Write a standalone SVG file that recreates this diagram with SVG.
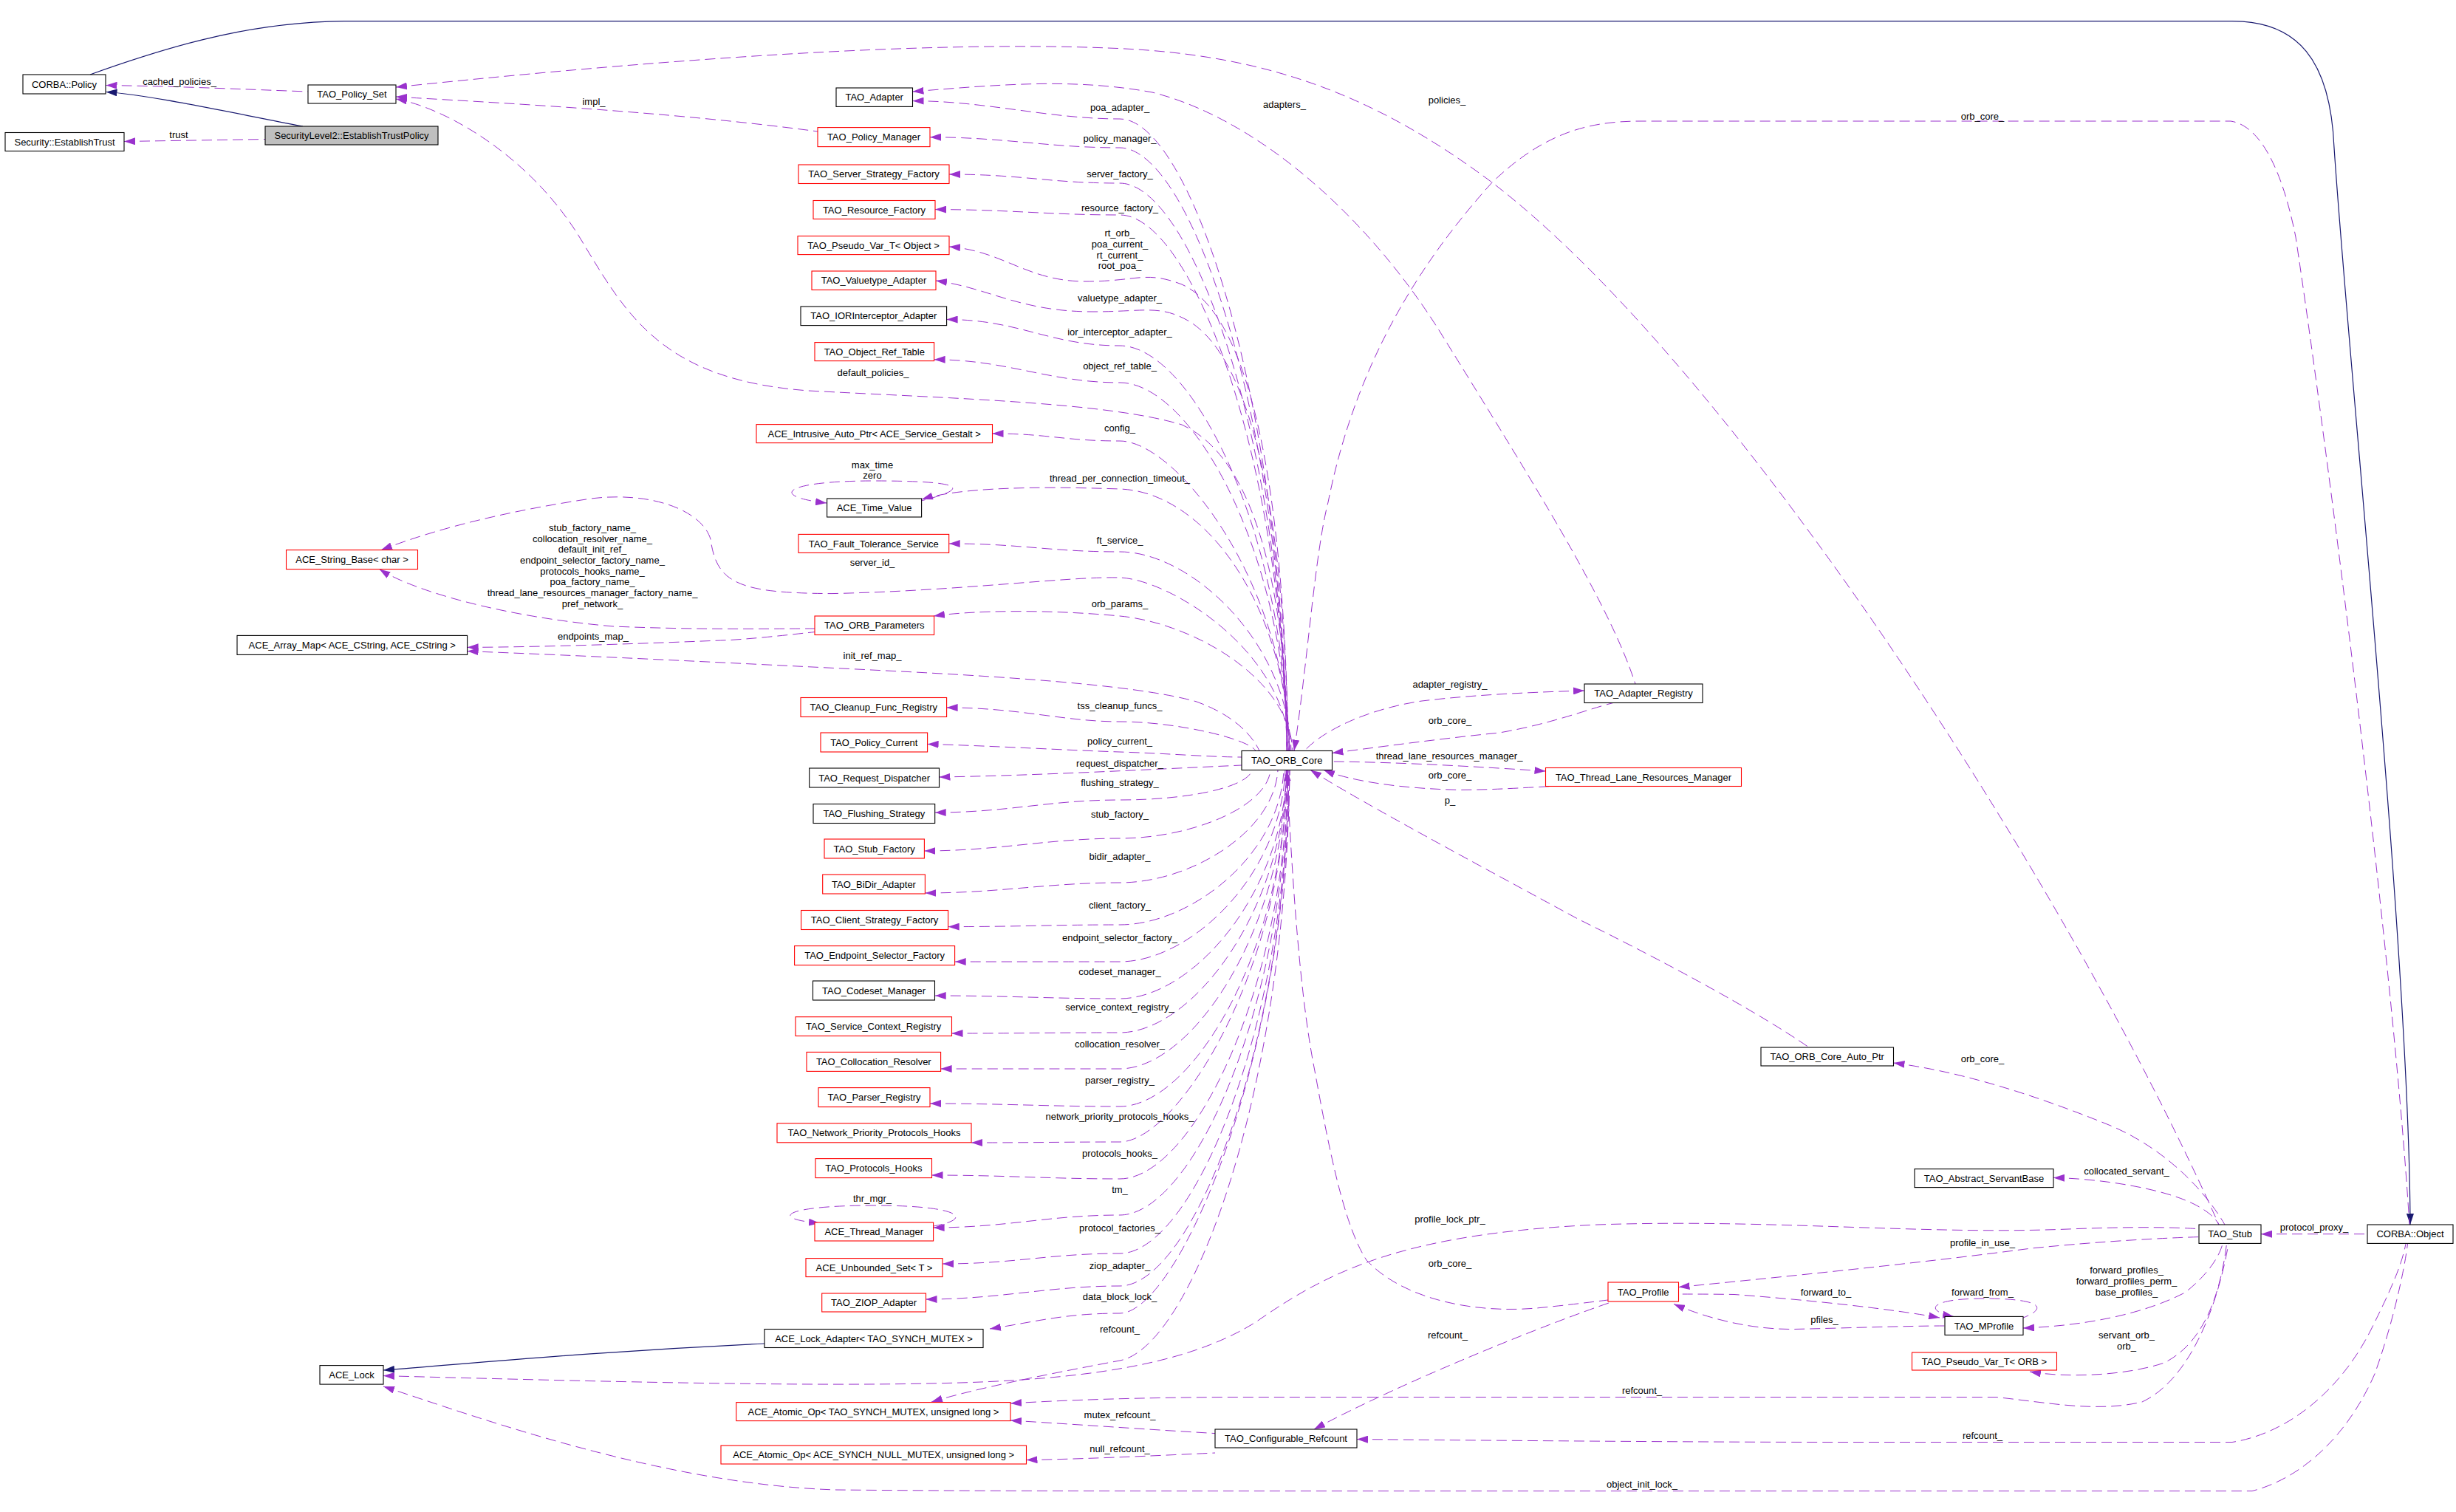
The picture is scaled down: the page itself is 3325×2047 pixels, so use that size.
<svg xmlns="http://www.w3.org/2000/svg" width="3325" height="2047" viewBox="0 0 3325 2047">
<style>
.node rect{fill:#fff;stroke:#000;stroke-width:1.1}
.node.red rect{stroke:#ff0000}
.node.main rect{fill:#bfbfbf}
text{font-family:"Liberation Sans",Arial,sans-serif;font-size:13px;text-anchor:middle;fill:#000}
.e{fill:none;stroke:#9a32cd;stroke-width:1;stroke-dasharray:14,7;marker-start:url(#a)}
.i{fill:none;stroke:#191970;stroke-width:1.2;marker-start:url(#b)}
</style>
<defs>
<marker id="a" viewBox="0 0 15 10" refX="15" refY="5" markerWidth="15" markerHeight="10" markerUnits="userSpaceOnUse" orient="auto-start-reverse"><path d="M0,0L15,5L0,10z" fill="#9a32cd"/></marker>
<marker id="b" viewBox="0 0 15 10" refX="15" refY="5" markerWidth="15" markerHeight="10" markerUnits="userSpaceOnUse" orient="auto-start-reverse"><path d="M0,0L15,5L0,10z" fill="#191970"/></marker>
</defs>
<rect width="3325" height="2047" fill="#fff"/>
<g id="connectors">
<path class="i" d="M3263,1658 C3262,1300 3180,500 3160,200 C3155,80 3110,28.6 3022,28.6 L466,28.6 C350,30 250,55 122,101"/>
<path class="i" d="M143.5,124.5 C200,128 300,150 410,171"/>
<path class="i" d="M519,1855 C650,1845 800,1830 1035,1819"/>
<path class="e" d="M143.5,115.5 C250,117 330,121 417,124"/>
<path class="e" d="M168,191.5 L359,188.5"/>
<path class="e" d="M536,131 C650,138 900,150 1107,178"/>
<path class="e" d="M536,118 C900,80 1250,55 1500,65 C1700,72 1850,120 2020,247 C2350,500 2800,1200 3004,1658"/>
<path class="e" d="M1235.5,124 C1350,115 1450,105 1560,125 C1700,160 1850,290 1950,450 C2080,660 2180,820 2214,926"/>
<path class="e" d="M1235.5,136.6 C1335,136.6 1420,161 1516,161 S1737,545 1742,1016.5"/>
<path class="e" d="M1259,185.7 C1359,185.7 1420,200 1516,200 S1737,567 1742,1016.5"/>
<path class="e" d="M1285,236 C1385,236 1420,248 1516,248 S1737,594 1742,1016.5"/>
<path class="e" d="M1266,283.6 C1366,283.6 1420,291 1516,291 S1737,617 1742,1016.5"/>
<path class="e" d="M1285,334 C1360,340 1390,381 1470,381 C1540,381 1550,366 1600,385 C1700,430 1740,700 1744,1016.5"/>
<path class="e" d="M1267,380 C1340,390 1380,422 1480,422 C1550,422 1570,412 1610,435 C1700,490 1740,720 1744,1016.5"/>
<path class="e" d="M1281.6,432.5 C1381,432.5 1420,468 1516,468 S1739,715 1744,1016.5"/>
<path class="e" d="M1264.6,486.8 C1364,486.8 1420,518 1516,518 S1739,742 1744,1016.5"/>
<path class="e" d="M536,134 C600,145 720,210 790,330 C850,430 900,515 1095,529 C1300,540 1500,545 1600,575 C1700,620 1740,800 1744,1016.5"/>
<path class="e" d="M1343.5,587 C1420,587 1440,597 1516,597 S1741,786 1746,1016.5"/>
<path class="e" d="M1119,681 C1040,672 1060,651 1183,651 C1300,651 1320,660 1247,678"/>
<path class="e" d="M1248,676 C1300,660 1400,658 1516,662 S1741,820 1746,1016.5"/>
<path class="e" d="M1284.7,736 C1384,736 1420,747 1516,747 S1743,868 1748,1016.5"/>
<path class="e" d="M516,744.6 C600,712 700,690 800,675 C880,665 950,690 962,730 C970,790 1000,803 1126,803.6 C1300,800 1450,780 1516,782 S1741,880 1746,1016.5"/>
<path class="e" d="M513.5,770.6 C560,800 680,835 830,848 C950,853 1050,851 1103,851"/>
<path class="e" d="M632.6,876.4 C750,876 900,870 989,866.5 C1040,863 1080,858 1103,855.6"/>
<path class="e" d="M1264,834 C1320,826 1420,825 1516,834 S1745,916 1750,1016.5"/>
<path class="e" d="M632.6,881.6 C800,888 1000,898 1200,908 C1400,918 1550,930 1620,950 C1670,968 1695,995 1705,1016.5"/>
<path class="e" d="M1281.6,958 C1381,958 1440,977 1516,977 S1690,1000 1700,1016.5"/>
<path class="e" d="M1255.6,1007.4 C1350,1010 1450,1016 1516,1018 C1580,1020 1640,1025 1681,1025"/>
<path class="e" d="M1271.5,1052 C1400,1050 1550,1042 1681,1036"/>
<path class="e" d="M1265.7,1100 C1365,1100 1420,1083 1516,1083 S1690,1065 1695,1042.5"/>
<path class="e" d="M1251.4,1152 C1351,1152 1420,1135 1516,1135 S1715,1093 1720,1042.5"/>
<path class="e" d="M1252.4,1209 C1352,1209 1420,1195 1516,1195 S1725,1126 1730,1042.5"/>
<path class="e" d="M1283.7,1254.6 C1383,1254.6 1420,1252 1516,1252 S1733,1158 1738,1042.5"/>
<path class="e" d="M1292.7,1302 C1392,1302 1420,1302 1516,1302 S1735,1185 1740,1042.5"/>
<path class="e" d="M1265.7,1348 C1365,1348 1420,1352 1516,1352 S1737,1213 1742,1042.5"/>
<path class="e" d="M1288.5,1399 C1388,1399 1420,1398 1516,1398 S1737,1238 1742,1042.5"/>
<path class="e" d="M1273.6,1447 C1373,1447 1420,1447 1516,1447 S1737,1265 1742,1042.5"/>
<path class="e" d="M1259,1494 C1359,1494 1420,1498 1516,1498 S1738,1293 1743,1042.5"/>
<path class="e" d="M1315,1547 C1400,1547 1440,1546 1516,1546 S1738,1320 1743,1042.5"/>
<path class="e" d="M1261.5,1591 C1361,1591 1420,1596 1516,1596 S1739,1347 1744,1042.5"/>
<path class="e" d="M1263.6,1662 C1363,1662 1420,1645 1516,1645 S1739,1374 1744,1042.5"/>
<path class="e" d="M1110,1656 C1040,1650 1060,1632 1183,1632 C1300,1632 1320,1650 1263.6,1660"/>
<path class="e" d="M1276,1711 C1376,1711 1420,1697 1516,1697 S1740,1402 1745,1042.5"/>
<path class="e" d="M1253.5,1759 C1353,1759 1420,1741 1516,1741 S1740,1427 1745,1042.5"/>
<path class="e" d="M1340,1799 C1400,1790 1440,1778 1516,1778 S1741,1447 1746,1042.5"/>
<path class="e" d="M1261,1898 C1320,1880 1420,1860 1516,1842 S1741,1482 1746,1042.5"/>
<path class="e" d="M1368,1923 C1450,1928 1550,1935 1645,1940.6"/>
<path class="e" d="M1389.5,1976.6 C1480,1975 1580,1970 1645,1967"/>
<path class="e" d="M2145,935 C2080,937 2000,940 1925,949 C1850,960 1790,990 1766,1016.5"/>
<path class="e" d="M1803.5,1019.5 C1870,1011 1950,1000 2030,992 C2100,980 2150,960 2184,951.5"/>
<path class="e" d="M2092.5,1044 C2000,1038 1900,1032 1803.5,1031"/>
<path class="e" d="M1792,1042.5 C1830,1058 1900,1068 1978,1069.4 C2030,1069 2070,1066 2099,1064.6"/>
<path class="e" d="M1774,1042.5 C1850,1090 2000,1170 2136,1244 C2250,1300 2380,1370 2449,1418"/>
<path class="e" d="M1752,1016.5 C1770,900 1780,750 1798,680 C1830,520 1900,380 2020,247 C2090,180 2150,164 2221,164 L3020,164 C3060,170 3090,230 3108,321 C3150,600 3240,1300 3262,1658"/>
<path class="e" d="M1742,1042.5 C1750,1200 1760,1350 1780,1450 C1800,1560 1820,1660 1850,1706 C1900,1760 2000,1780 2090,1770 C2130,1766 2160,1762 2177,1760"/>
<path class="e" d="M2563.5,1439 C2650,1450 2750,1480 2860,1525 C2940,1560 2990,1620 3012,1658"/>
<path class="e" d="M2780,1594.4 C2850,1596 2930,1610 2970,1630 C2990,1640 3000,1650 3004,1658"/>
<path class="e" d="M3061,1670.7 L3205,1670.7"/>
<path class="e" d="M2272.5,1742.6 C2400,1730 2600,1710 2750,1690 C2850,1680 2930,1676 2977,1674.6"/>
<path class="e" d="M519,1862.6 C800,1870 1100,1878 1300,1872 C1500,1866 1620,1840 1700,1790 C1800,1720 1900,1670 2163,1658 C2400,1650 2600,1672 2800,1664 C2900,1660 2950,1662 2977,1663.7"/>
<path class="e" d="M2626,1784 C2560,1772 2450,1760 2348,1752.5 C2320,1752 2290,1752 2272.5,1752"/>
<path class="e" d="M2266,1765.4 C2300,1780 2360,1800 2428,1799.5 C2500,1798 2580,1795 2633,1795"/>
<path class="e" d="M2645,1782.4 C2605,1775 2610,1758 2686,1758 C2760,1758 2775,1770 2739,1784"/>
<path class="e" d="M2739,1798 C2820,1795 2900,1780 2958,1750 C2990,1725 3005,1700 3009,1684"/>
<path class="e" d="M2748,1857 C2800,1866 2880,1862 2930,1845 C2980,1820 3005,1760 3014.5,1684"/>
<path class="e" d="M1368,1900 C1450,1895 1550,1892 1660,1891.5 L2703,1891.5 C2780,1900 2840,1912 2900,1898 C2960,1870 3000,1780 3017,1684"/>
<path class="e" d="M1837,1948.5 C2000,1950 2300,1952.5 2490,1952.5 L3022,1952.5 C3100,1940 3170,1880 3210,1800 C3240,1740 3252,1710 3257,1684"/>
<path class="e" d="M519,1877 C650,1920 900,2010 1132,2017 C1300,2018.6 1500,2018.6 1660,2018.6 L3049,2018.6 C3120,2000 3180,1940 3215,1860 C3240,1790 3255,1720 3259.5,1684"/>
<path class="e" d="M1779,1935 C1900,1870 2100,1790 2184,1762"/>
</g>
<g id="labels">
<text x="243" y="115">cached_policies_</text>
<text x="242" y="187">trust</text>
<text x="804" y="142">impl_</text>
<text x="1516" y="150">poa_adapter_</text>
<text x="1516" y="192">policy_manager_</text>
<text x="1516" y="240">server_factory_</text>
<text x="1516" y="286">resource_factory_</text>
<text x="1516" y="320">rt_orb_</text>
<text x="1516" y="335">poa_current_</text>
<text x="1516" y="350">rt_current_</text>
<text x="1516" y="364">root_poa_</text>
<text x="1516" y="408">valuetype_adapter_</text>
<text x="1516" y="454">ior_interceptor_adapter_</text>
<text x="1516" y="500">object_ref_table_</text>
<text x="1182" y="509">default_policies_</text>
<text x="1516" y="584">config_</text>
<text x="1181" y="634">max_time</text>
<text x="1181" y="648">zero</text>
<text x="1516" y="652">thread_per_connection_timeout_</text>
<text x="1516" y="736">ft_service_</text>
<text x="1181" y="766">server_id_</text>
<text x="802" y="719">stub_factory_name_</text>
<text x="802" y="734">collocation_resolver_name_</text>
<text x="802" y="748">default_init_ref_</text>
<text x="802" y="763">endpoint_selector_factory_name_</text>
<text x="802" y="778">protocols_hooks_name_</text>
<text x="802" y="792">poa_factory_name_</text>
<text x="802" y="807">thread_lane_resources_manager_factory_name_</text>
<text x="802" y="822">pref_network_</text>
<text x="803" y="866">endpoints_map_</text>
<text x="1516" y="822">orb_params_</text>
<text x="1181" y="892">init_ref_map_</text>
<text x="1516" y="960">tss_cleanup_funcs_</text>
<text x="1516" y="1008">policy_current_</text>
<text x="1516" y="1038">request_dispatcher_</text>
<text x="1516" y="1064">flushing_strategy_</text>
<text x="1516" y="1107">stub_factory_</text>
<text x="1516" y="1164">bidir_adapter_</text>
<text x="1516" y="1230">client_factory_</text>
<text x="1516" y="1274">endpoint_selector_factory_</text>
<text x="1516" y="1320">codeset_manager_</text>
<text x="1516" y="1368">service_context_registry_</text>
<text x="1516" y="1418">collocation_resolver_</text>
<text x="1516" y="1467">parser_registry_</text>
<text x="1516" y="1516">network_priority_protocols_hooks_</text>
<text x="1516" y="1566">protocols_hooks_</text>
<text x="1516" y="1615">tm_</text>
<text x="1181" y="1627">thr_mgr_</text>
<text x="1516" y="1667">protocol_factories_</text>
<text x="1516" y="1718">ziop_adapter_</text>
<text x="1516" y="1760">data_block_lock_</text>
<text x="1516" y="1804">refcount_</text>
<text x="1516" y="1920">mutex_refcount_</text>
<text x="1516" y="1966">null_refcount_</text>
<text x="1739" y="146">adapters_</text>
<text x="1959" y="140">policies_</text>
<text x="2684" y="162">orb_core_</text>
<text x="1963" y="931">adapter_registry_</text>
<text x="1963" y="980">orb_core_</text>
<text x="1962" y="1028">thread_lane_resources_manager_</text>
<text x="1963" y="1054">orb_core_</text>
<text x="1963" y="1088">p_</text>
<text x="2684" y="1438">orb_core_</text>
<text x="2879" y="1590">collocated_servant_</text>
<text x="3133" y="1666">protocol_proxy_</text>
<text x="1963" y="1655">profile_lock_ptr_</text>
<text x="2684" y="1687">profile_in_use_</text>
<text x="1963" y="1715">orb_core_</text>
<text x="2879" y="1724">forward_profiles_</text>
<text x="2879" y="1739">forward_profiles_perm_</text>
<text x="2879" y="1754">base_profiles_</text>
<text x="2684" y="1754">forward_from_</text>
<text x="2472" y="1754">forward_to_</text>
<text x="2470" y="1791">pfiles_</text>
<text x="1960" y="1812">refcount_</text>
<text x="2879" y="1812">servant_orb_</text>
<text x="2879" y="1827">orb_</text>
<text x="2223" y="1887">refcount_</text>
<text x="2684" y="1948">refcount_</text>
<text x="2223" y="2014">object_init_lock_</text>
</g>
<g id="n_CORBA_Policy" class="node"><rect x="31" y="101" width="112" height="26"/><text x="87" y="118.6">CORBA::Policy</text></g>
<g id="n_TAO_Policy_Set" class="node"><rect x="417" y="115" width="119" height="25"/><text x="476.5" y="132.1">TAO_Policy_Set</text></g>
<g id="n_SecurityLevel2_EstablishTrustPolicy" class="node main"><rect x="359" y="171" width="234" height="25"/><text x="476" y="188.1">SecurityLevel2::EstablishTrustPolicy</text></g>
<g id="n_Security_EstablishTrust" class="node"><rect x="7" y="179.5" width="161" height="25"/><text x="87.5" y="196.6">Security::EstablishTrust</text></g>
<g id="n_TAO_Adapter" class="node"><rect x="1132" y="119" width="103.5" height="25.4"/><text x="1183.7" y="136.3">TAO_Adapter</text></g>
<g id="n_TAO_Policy_Manager" class="node red"><rect x="1107" y="172.6" width="152" height="26"/><text x="1183" y="190.2">TAO_Policy_Manager</text></g>
<g id="n_TAO_Server_Strategy_Factory" class="node red"><rect x="1081" y="223" width="204" height="25.5"/><text x="1183" y="240.3">TAO_Server_Strategy_Factory</text></g>
<g id="n_TAO_Resource_Factory" class="node red"><rect x="1101" y="271.5" width="165" height="25"/><text x="1183.5" y="288.6">TAO_Resource_Factory</text></g>
<g id="n_TAO_Pseudo_Var_T_Object" class="node red"><rect x="1080" y="319.6" width="205" height="25"/><text x="1182.5" y="336.7">TAO_Pseudo_Var_T&lt; Object &gt;</text></g>
<g id="n_TAO_Valuetype_Adapter" class="node red"><rect x="1099" y="367" width="168" height="25.5"/><text x="1183" y="384.3">TAO_Valuetype_Adapter</text></g>
<g id="n_TAO_IORInterceptor_Adapter" class="node"><rect x="1084" y="415" width="197.6" height="25.6"/><text x="1182.8" y="432.4">TAO_IORInterceptor_Adapter</text></g>
<g id="n_TAO_Object_Ref_Table" class="node red"><rect x="1103" y="463.6" width="161.6" height="25"/><text x="1183.8" y="480.7">TAO_Object_Ref_Table</text></g>
<g id="n_ACE_Intrusive_Auto_Ptr" class="node red"><rect x="1024" y="574.6" width="319.5" height="25"/><text x="1183.7" y="591.7">ACE_Intrusive_Auto_Ptr&lt; ACE_Service_Gestalt &gt;</text></g>
<g id="n_ACE_Time_Value" class="node"><rect x="1119.6" y="675" width="128" height="25"/><text x="1183.6" y="692.1">ACE_Time_Value</text></g>
<g id="n_TAO_Fault_Tolerance_Service" class="node red"><rect x="1081" y="723.4" width="203.7" height="25"/><text x="1182.8" y="740.5">TAO_Fault_Tolerance_Service</text></g>
<g id="n_ACE_String_Base_char" class="node red"><rect x="387.5" y="744.6" width="178" height="26"/><text x="476.5" y="762.2">ACE_String_Base&lt; char &gt;</text></g>
<g id="n_TAO_ORB_Parameters" class="node red"><rect x="1103" y="834" width="161.6" height="25.5"/><text x="1183.8" y="851.3">TAO_ORB_Parameters</text></g>
<g id="n_ACE_Array_Map" class="node"><rect x="321" y="860.4" width="311.6" height="26"/><text x="476.8" y="878">ACE_Array_Map&lt; ACE_CString, ACE_CString &gt;</text></g>
<g id="n_TAO_Cleanup_Func_Registry" class="node red"><rect x="1084" y="944.5" width="197.6" height="26"/><text x="1182.8" y="962.1">TAO_Cleanup_Func_Registry</text></g>
<g id="n_TAO_Policy_Current" class="node red"><rect x="1111" y="992" width="144.6" height="26"/><text x="1183.3" y="1009.6">TAO_Policy_Current</text></g>
<g id="n_TAO_Request_Dispatcher" class="node"><rect x="1095.7" y="1040" width="175.8" height="26"/><text x="1183.6" y="1057.6">TAO_Request_Dispatcher</text></g>
<g id="n_TAO_Flushing_Strategy" class="node"><rect x="1101" y="1088.5" width="164.7" height="26"/><text x="1183.3" y="1106.1">TAO_Flushing_Strategy</text></g>
<g id="n_TAO_Stub_Factory" class="node red"><rect x="1116" y="1136" width="135.4" height="26"/><text x="1183.7" y="1153.6">TAO_Stub_Factory</text></g>
<g id="n_TAO_BiDir_Adapter" class="node red"><rect x="1113.7" y="1184" width="138.7" height="26"/><text x="1183" y="1201.6">TAO_BiDir_Adapter</text></g>
<g id="n_TAO_Client_Strategy_Factory" class="node red"><rect x="1084.6" y="1232.5" width="199" height="26"/><text x="1184.1" y="1250.1">TAO_Client_Strategy_Factory</text></g>
<g id="n_TAO_Endpoint_Selector_Factory" class="node red"><rect x="1075.6" y="1280.6" width="217" height="26"/><text x="1184.1" y="1298.2">TAO_Endpoint_Selector_Factory</text></g>
<g id="n_TAO_Codeset_Manager" class="node"><rect x="1100.5" y="1328" width="165" height="26"/><text x="1183" y="1345.6">TAO_Codeset_Manager</text></g>
<g id="n_TAO_Service_Context_Registry" class="node red"><rect x="1077" y="1376.7" width="211.5" height="25.8"/><text x="1182.7" y="1394.2">TAO_Service_Context_Registry</text></g>
<g id="n_TAO_Collocation_Resolver" class="node red"><rect x="1092" y="1424.4" width="181.6" height="26"/><text x="1182.8" y="1442">TAO_Collocation_Resolver</text></g>
<g id="n_TAO_Parser_Registry" class="node red"><rect x="1108" y="1472.6" width="151" height="26"/><text x="1183.5" y="1490.2">TAO_Parser_Registry</text></g>
<g id="n_TAO_Network_Priority_Protocols_Hooks" class="node red"><rect x="1052" y="1520.8" width="263" height="26"/><text x="1183.5" y="1538.4">TAO_Network_Priority_Protocols_Hooks</text></g>
<g id="n_TAO_Protocols_Hooks" class="node red"><rect x="1104" y="1568.6" width="157.5" height="26"/><text x="1182.8" y="1586.2">TAO_Protocols_Hooks</text></g>
<g id="n_ACE_Thread_Manager" class="node red"><rect x="1103" y="1655" width="160.6" height="25"/><text x="1183.3" y="1672.1">ACE_Thread_Manager</text></g>
<g id="n_ACE_Unbounded_Set_T" class="node red"><rect x="1091" y="1703.6" width="185" height="25"/><text x="1183.5" y="1720.7">ACE_Unbounded_Set&lt; T &gt;</text></g>
<g id="n_TAO_ZIOP_Adapter" class="node red"><rect x="1112.7" y="1751" width="140.8" height="25"/><text x="1183.1" y="1768.1">TAO_ZIOP_Adapter</text></g>
<g id="n_ACE_Lock_Adapter" class="node"><rect x="1035" y="1799.5" width="296" height="25"/><text x="1183" y="1816.6">ACE_Lock_Adapter&lt; TAO_SYNCH_MUTEX &gt;</text></g>
<g id="n_ACE_Atomic_Op_TAO" class="node red"><rect x="996.8" y="1898.6" width="371.2" height="25"/><text x="1182.4" y="1915.7">ACE_Atomic_Op&lt; TAO_SYNCH_MUTEX, unsigned long &gt;</text></g>
<g id="n_ACE_Atomic_Op_NULL" class="node red"><rect x="976" y="1957" width="413.5" height="25"/><text x="1182.7" y="1974.1">ACE_Atomic_Op&lt; ACE_SYNCH_NULL_MUTEX, unsigned long &gt;</text></g>
<g id="n_ACE_Lock" class="node"><rect x="433" y="1848.6" width="86" height="25.5"/><text x="476" y="1865.9">ACE_Lock</text></g>
<g id="n_TAO_ORB_Core" class="node"><rect x="1681" y="1016.5" width="122.5" height="26"/><text x="1742.2" y="1034.1">TAO_ORB_Core</text></g>
<g id="n_TAO_Adapter_Registry" class="node"><rect x="2145" y="926" width="160" height="25.5"/><text x="2225" y="943.3">TAO_Adapter_Registry</text></g>
<g id="n_TAO_Thread_Lane_Resources_Manager" class="node red"><rect x="2092.5" y="1039.5" width="265" height="25"/><text x="2225" y="1056.6">TAO_Thread_Lane_Resources_Manager</text></g>
<g id="n_TAO_ORB_Core_Auto_Ptr" class="node"><rect x="2384" y="1418" width="179.5" height="25"/><text x="2473.7" y="1435.1">TAO_ORB_Core_Auto_Ptr</text></g>
<g id="n_TAO_Abstract_ServantBase" class="node"><rect x="2592" y="1582.6" width="188" height="25"/><text x="2686" y="1599.7">TAO_Abstract_ServantBase</text></g>
<g id="n_TAO_Stub" class="node"><rect x="2977" y="1658" width="84" height="25.4"/><text x="3019" y="1675.3">TAO_Stub</text></g>
<g id="n_CORBA_Object" class="node"><rect x="3205" y="1658" width="116" height="25.4"/><text x="3263" y="1675.3">CORBA::Object</text></g>
<g id="n_TAO_Profile" class="node red"><rect x="2177" y="1736" width="95.5" height="26"/><text x="2224.7" y="1753.6">TAO_Profile</text></g>
<g id="n_TAO_MProfile" class="node"><rect x="2633" y="1782.4" width="106" height="25"/><text x="2686" y="1799.5">TAO_MProfile</text></g>
<g id="n_TAO_Pseudo_Var_T_ORB" class="node red"><rect x="2588.5" y="1831" width="196" height="24"/><text x="2686.5" y="1847.6">TAO_Pseudo_Var_T&lt; ORB &gt;</text></g>
<g id="n_TAO_Configurable_Refcount" class="node"><rect x="1645" y="1935" width="192" height="25"/><text x="1741" y="1952.1">TAO_Configurable_Refcount</text></g>
</svg>
